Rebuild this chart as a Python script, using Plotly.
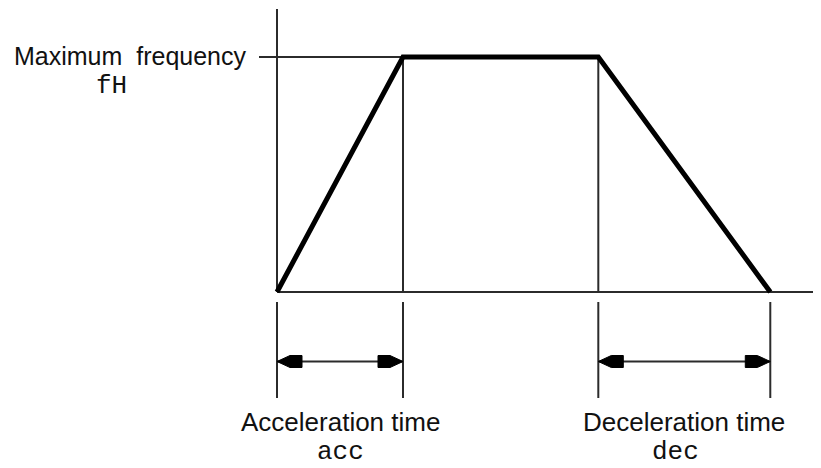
import numpy as np
import plotly.graph_objects as go

# ---- data (arbitrary units) ----
phases = ["Acceleration", "Constant speed", "Deceleration"]
durations = [1.00, 1.55, 1.365]          # time units
f_max = 1.0                               # maximum frequency fH
freq_profile = [0.0, f_max, f_max, 0.0]   # frequency at each phase boundary
time_labels = ["Acceleration time", "Deceleration time"]
code_labels = ["acc", "dec"]
max_label = "Maximum  frequency"
max_code = "fH"

t = np.concatenate([[0.0], np.cumsum(durations)])

# ---- canvas geometry ----
WIN_W, WIN_H = 821, 468
OFF = 8                       # default page body margin
W, H = WIN_W - OFF, WIN_H - OFF
ox, oy = 277, 292             # window pixel of origin
sx, sy = 126.0, 235.0         # pixels per unit


def px2t(p):
    return (p - ox) / sx


def px2f(p):
    return (oy - p) / sy


def px(x):
    return (x - OFF) / W


def py(y):
    return 1 - (y - OFF) / H


x_range = [px2t(OFF), px2t(WIN_W)]
y_range = [px2f(WIN_H), px2f(OFF)]

thin = dict(color="#2b2b2b", width=2)

fig = go.Figure()

xs, ys = [], []


def seg(x0, y0, x1, y1):
    xs.extend([x0, x1, None])
    ys.extend([y0, y1, None])


seg(t[0], 0, t[0], px2f(9))             # vertical axis
seg(t[0], 0, px2t(819), 0)              # horizontal axis
seg(px2t(259), f_max, t[1], f_max)      # max frequency guide
seg(t[1], 0, t[1], f_max)
seg(t[2], 0, t[2], f_max)

# dimension lines
dim_top, dim_bot, dim_y = px2f(302), px2f(398), px2f(361.5)
for ti in t:
    seg(ti, dim_top, ti, dim_bot)
intervals = [(t[0], t[1]), (t[2], t[3])]
for a, b in intervals:
    seg(a, dim_y, b, dim_y)

fig.add_trace(go.Scatter(x=xs, y=ys, mode="lines", line=thin,
                         hoverinfo="skip"))

# arrowheads as filled polygons
ah_tri, ah_len, ah_half = 13 / sx, 25 / sx, 6 / sy
axs, ays = [], []
for a, b in intervals:
    for tip, d in ((a, 1), (b, -1)):
        axs.extend([tip, tip + d * ah_tri, tip + d * ah_len, tip + d * ah_len,
                    tip + d * ah_tri, tip, None])
        ays.extend([dim_y, dim_y + ah_half, dim_y + ah_half, dim_y - ah_half,
                    dim_y - ah_half, dim_y, None])
fig.add_trace(go.Scatter(x=axs, y=ays, mode="lines", fill="toself",
                         fillcolor="black", line=dict(color="black", width=1),
                         hoverinfo="skip"))

# frequency profile (thick)
fig.add_trace(go.Scatter(x=t, y=freq_profile, mode="lines",
                         line=dict(color="black", width=5),
                         hoverinfo="skip"))

sans_family = "Liberation Sans, Arial, sans-serif"
mono = dict(family="Liberation Mono, DejaVu Sans Mono, monospace", size=26,
            color="#111")

ann = []
ann.append(dict(x=px(249), y=py(56), text=max_label,
                font=dict(family=sans_family, size=25, color="#111"),
                xanchor="right", yanchor="middle"))
ann.append(dict(x=px(112), y=py(86), text=max_code, font=mono,
                xanchor="center", yanchor="middle"))
centers = [(t[0] + t[1]) / 2, (t[2] + t[3]) / 2]
code_dx = [0, -9]
for c, lab, code, dx in zip(centers, time_labels, code_labels, code_dx):
    cx = ox + c * sx
    ann.append(dict(x=px(cx), y=py(422), text=lab,
                    font=dict(family=sans_family, size=26, color="#111"),
                    xanchor="center", yanchor="middle"))
    ann.append(dict(x=px(cx + dx), y=0, text=code, font=mono,
                    xanchor="center", yanchor="bottom", borderpad=0))
for a in ann:
    a.update(xref="paper", yref="paper", showarrow=False)

fig.update_layout(
    width=W, height=H, autosize=False,
    margin=dict(l=0, r=0, t=0, b=0),
    paper_bgcolor="white", plot_bgcolor="white",
    showlegend=False,
    xaxis=dict(range=x_range, visible=False, fixedrange=True),
    yaxis=dict(range=y_range, visible=False, fixedrange=True),
    annotations=ann,
)

fig.write_html("out.html", config={"displayModeBar": False})
